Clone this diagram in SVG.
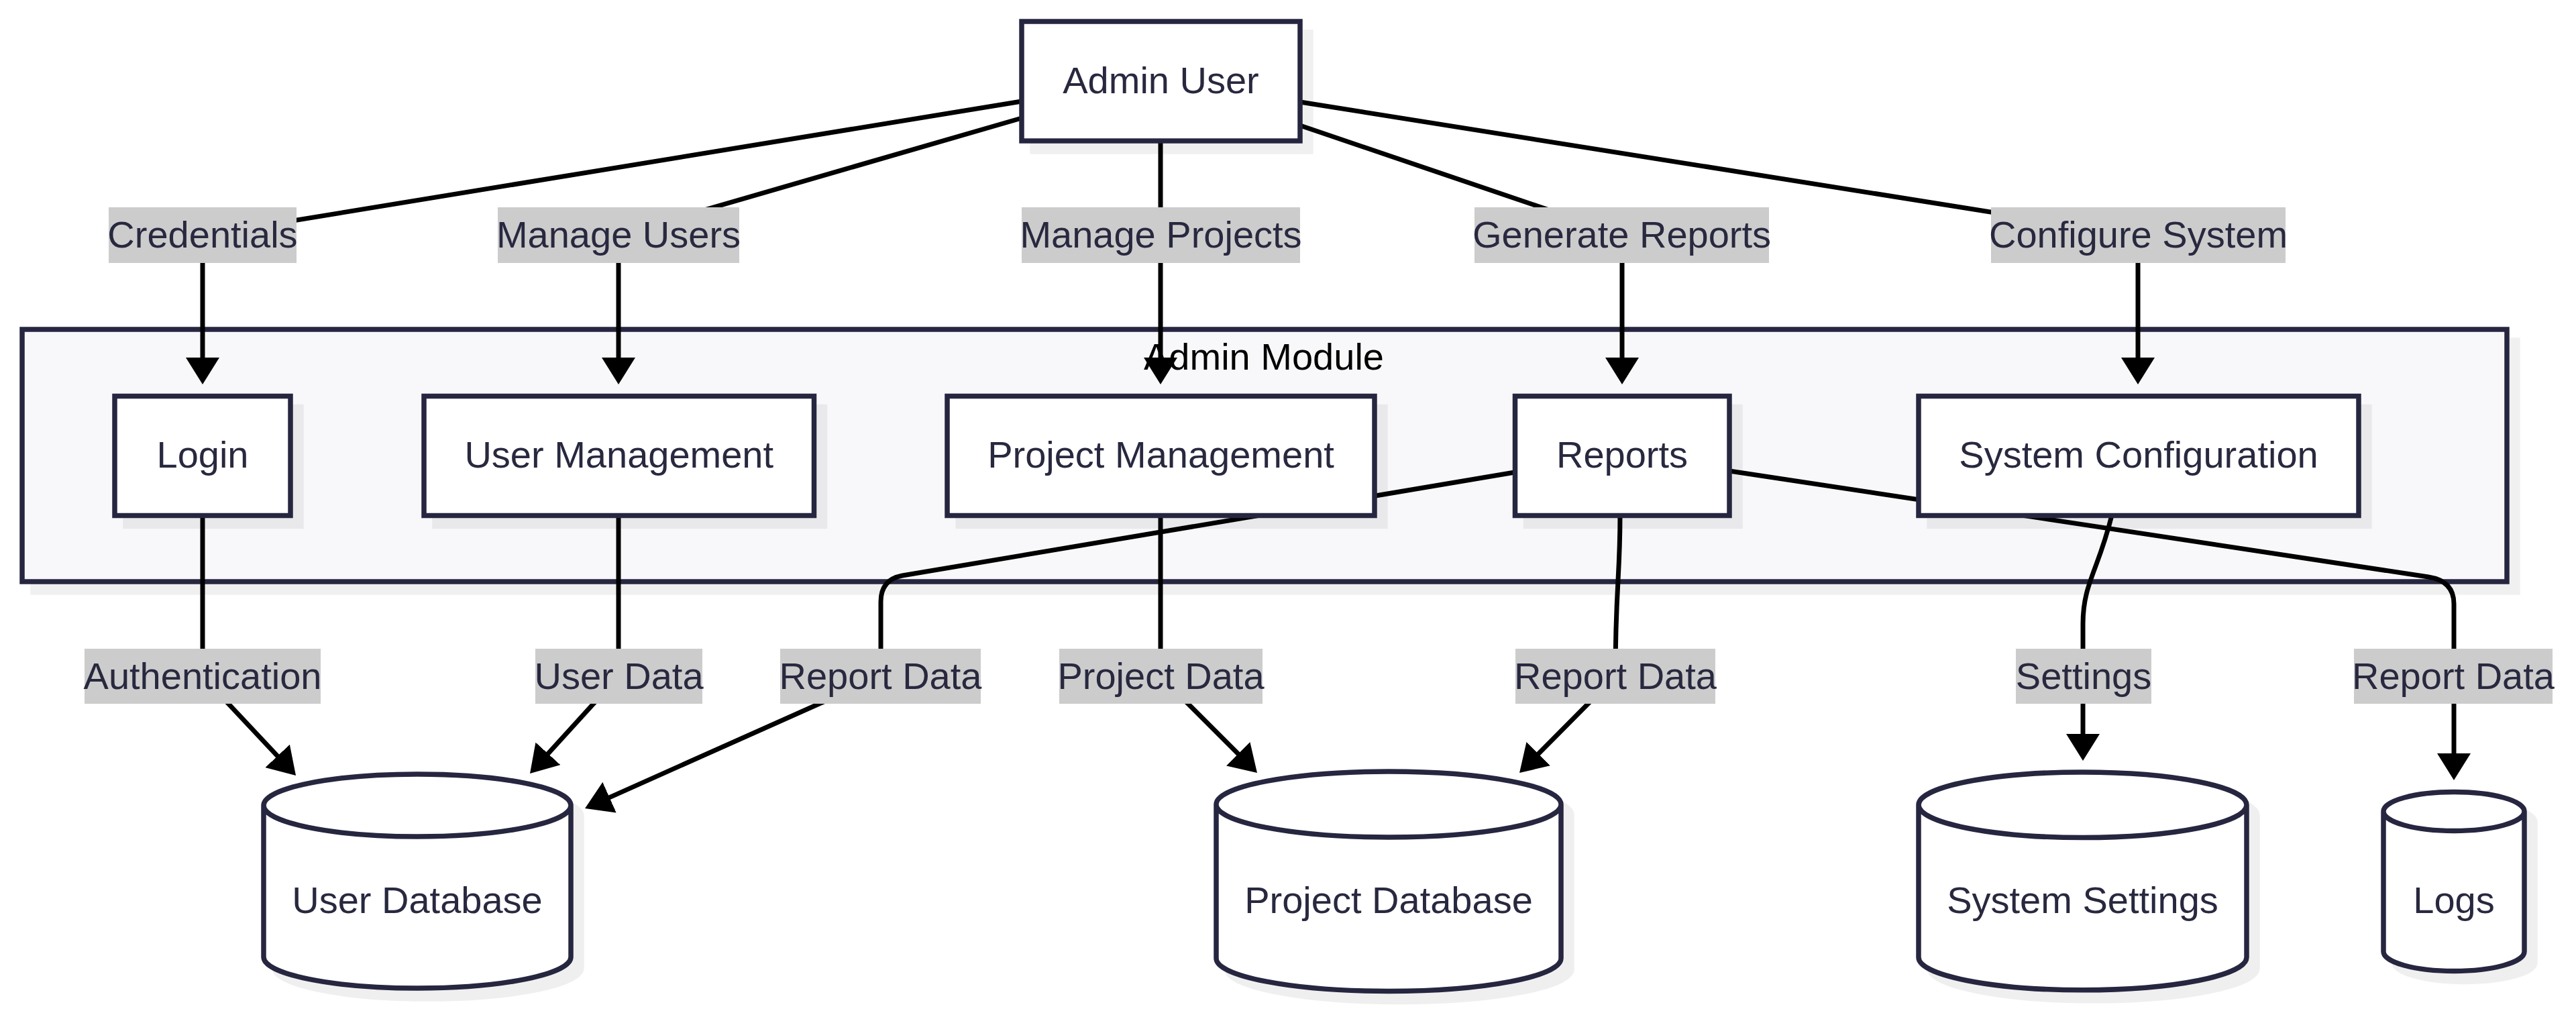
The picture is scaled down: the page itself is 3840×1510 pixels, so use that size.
<svg xmlns="http://www.w3.org/2000/svg" width="3840" height="1510" viewBox="0 0 3840 1510">
<style>
  text { font-family: "Liberation Sans", Arial, sans-serif; font-size: 56px; text-anchor: middle; fill: #28283f; }
  .title { fill: #000000; }
  .node { fill: #ffffff; stroke: #262640; stroke-width: 7.5; }
  .cluster { fill: #f8f8fa; stroke: #262640; stroke-width: 7.5; }
  .shadow { fill: #000000; opacity: 0.06; }
  .edge { fill: none; stroke: #000000; stroke-width: 7; marker-end: url(#arrow); }
  .lbl { fill: #cccccc; }
</style>
<defs>
  <marker id="arrow" markerUnits="userSpaceOnUse" markerWidth="40" markerHeight="50" refX="28" refY="25" orient="auto" viewBox="0 0 40 50">
    <path d="M0,0 L40,25 L0,50 Z" fill="#000000"/>
  </marker>
</defs>
<rect width="3840" height="1510" fill="#ffffff"/>

<g id="cluster-admin-module">
  <rect class="shadow" x="45.25" y="503.25" width="3711.5" height="383.5"/>
  <rect class="cluster" x="33" y="491" width="3704" height="376"/>
  <text class="title" x="1884" y="551">Admin Module</text>
</g>

<g id="edges">
  <path class="edge" d="M1523,151 L302,351 L302,561"/>
  <path class="edge" d="M1523,176 L922,350 L922,561"/>
  <path class="edge" d="M1730,210 L1730,561"/>
  <path class="edge" d="M1938,187 L2418,350 L2418,561"/>
  <path class="edge" d="M1938,152 L3187,351 L3187,561"/>
  <path class="edge" d="M302,768 L302,1008 L432.8,1147.3"/>
  <path class="edge" d="M922,768 L922,1008 L798.1,1144.1"/>
  <path class="edge" d="M2258,704 L1345,858 Q1313,864 1313,897 L1313,1008 L883,1200.1"/>
  <path class="edge" d="M1730,768 L1730,1008 L1865.5,1143.5"/>
  <path class="edge" d="M2415,768 C2415,860 2408,880 2408,1008 L2273.5,1143.5"/>
  <path class="edge" d="M3148,768 C3128,850 3105,870 3105,930 L3105,1122"/>
  <path class="edge" d="M2578,702 L3620,860 Q3658,866 3658,900 L3658,1151"/>
</g>

<g id="edge-labels">
  <rect class="lbl" x="162" y="309" width="280" height="83"/><text x="302" y="369">Credentials</text>
  <rect class="lbl" x="742" y="309" width="360" height="83"/><text x="922" y="369">Manage Users</text>
  <rect class="lbl" x="1523" y="309" width="415" height="83"/><text x="1730.5" y="369">Manage Projects</text>
  <rect class="lbl" x="2198" y="309" width="439" height="83"/><text x="2417.5" y="369">Generate Reports</text>
  <rect class="lbl" x="2968" y="309" width="439" height="83"/><text x="3187.5" y="369">Configure System</text>
  <rect class="lbl" x="126" y="967" width="352" height="82"/><text x="302" y="1027">Authentication</text>
  <rect class="lbl" x="798" y="967" width="249" height="82"/><text x="922.5" y="1027">User Data</text>
  <rect class="lbl" x="1163" y="967" width="299" height="82"/><text x="1312.5" y="1027">Report Data</text>
  <rect class="lbl" x="1579" y="967" width="303" height="82"/><text x="1730.5" y="1027">Project Data</text>
  <rect class="lbl" x="2259" y="967" width="298" height="82"/><text x="2408" y="1027">Report Data</text>
  <rect class="lbl" x="3005" y="967" width="202" height="82"/><text x="3106" y="1027">Settings</text>
  <rect class="lbl" x="3509" y="967" width="296" height="82"/><text x="3657" y="1027">Report Data</text>
</g>

<g id="node-admin-user">
  <rect class="shadow" x="1535.25" y="44.25" width="422.5" height="185.5"/>
  <rect class="node" x="1523" y="32" width="415" height="178"/>
  <text x="1730.5" y="139">Admin User</text>
</g>

<g id="node-login">
  <rect class="shadow" x="183.25" y="602.75" width="269.5" height="185.5"/>
  <rect class="node" x="171" y="590.5" width="262" height="178"/>
  <text x="302" y="697">Login</text>
</g>

<g id="node-user-management">
  <rect class="shadow" x="644.25" y="602.75" width="589" height="185.5"/>
  <rect class="node" x="632" y="590.5" width="581.5" height="178"/>
  <text x="922.75" y="697">User Management</text>
</g>

<g id="node-project-management">
  <rect class="shadow" x="1424.25" y="602.75" width="644.5" height="185.5"/>
  <rect class="node" x="1412" y="590.5" width="637" height="178"/>
  <text x="1730.5" y="697">Project Management</text>
</g>

<g id="node-reports">
  <rect class="shadow" x="2270.75" y="602.75" width="327" height="185.5"/>
  <rect class="node" x="2258.5" y="590.5" width="319.5" height="178"/>
  <text x="2418" y="697">Reports</text>
</g>

<g id="node-system-configuration">
  <rect class="shadow" x="2872.25" y="602.75" width="663.5" height="185.5"/>
  <rect class="node" x="2860" y="590.5" width="656" height="178"/>
  <text x="3188" y="697">System Configuration</text>
</g>

<g id="node-user-database">
  <g class="shadow" transform="translate(16,16)">
    <path d="M393,1200.5 a229,46.5 0 0 0 458,0 a229,46.5 0 0 0 -458,0 l0,226 a229,46.5 0 0 0 458,0 l0,-226" stroke="#000" stroke-width="7.5"/>
  </g>
  <path class="node" d="M393,1200.5 a229,46.5 0 0 0 458,0 a229,46.5 0 0 0 -458,0 l0,226 a229,46.5 0 0 0 458,0 l0,-226"/>
  <text x="622" y="1361">User Database</text>
</g>

<g id="node-project-database">
  <g class="shadow" transform="translate(16,16)">
    <path d="M1813,1199 a257,49 0 0 0 514,0 a257,49 0 0 0 -514,0 l0,229.5 a257,49 0 0 0 514,0 l0,-229.5" stroke="#000" stroke-width="7.5"/>
  </g>
  <path class="node" d="M1813,1199 a257,49 0 0 0 514,0 a257,49 0 0 0 -514,0 l0,229.5 a257,49 0 0 0 514,0 l0,-229.5"/>
  <text x="2070" y="1361">Project Database</text>
</g>

<g id="node-system-settings">
  <g class="shadow" transform="translate(16,16)">
    <path d="M2860,1199.75 a244.5,48.75 0 0 0 489,0 a244.5,48.75 0 0 0 -489,0 l0,227.25 a244.5,48.75 0 0 0 489,0 l0,-227.25" stroke="#000" stroke-width="7.5"/>
  </g>
  <path class="node" d="M2860,1199.75 a244.5,48.75 0 0 0 489,0 a244.5,48.75 0 0 0 -489,0 l0,227.25 a244.5,48.75 0 0 0 489,0 l0,-227.25"/>
  <text x="3104.5" y="1361">System Settings</text>
</g>

<g id="node-logs">
  <g class="shadow" transform="translate(16,16)">
    <path d="M3553,1209.5 a105,29 0 0 0 210,0 a105,29 0 0 0 -210,0 l0,209 a105,29 0 0 0 210,0 l0,-209" stroke="#000" stroke-width="7.5"/>
  </g>
  <path class="node" d="M3553,1209.5 a105,29 0 0 0 210,0 a105,29 0 0 0 -210,0 l0,209 a105,29 0 0 0 210,0 l0,-209"/>
  <text x="3658" y="1361">Logs</text>
</g>
</svg>
